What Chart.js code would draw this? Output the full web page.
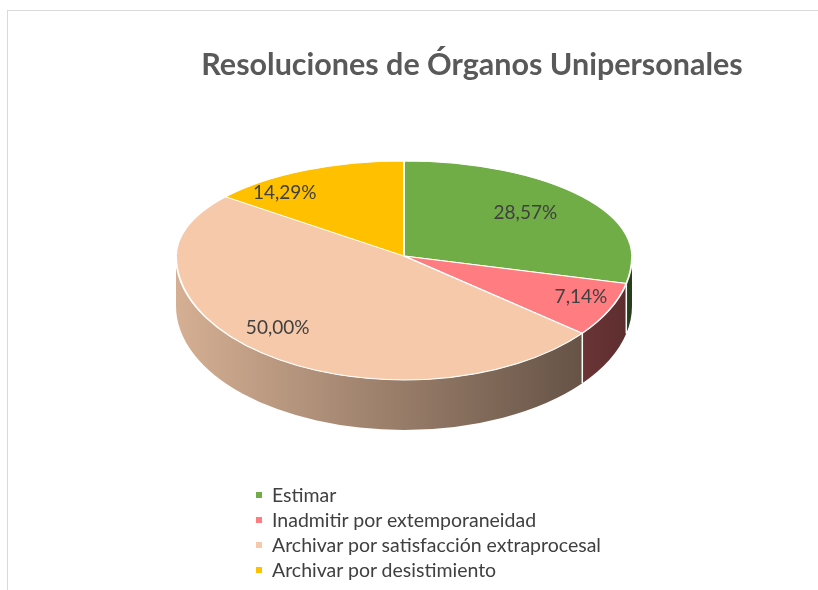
<!DOCTYPE html>
<html>
<head>
<meta charset="utf-8">
<script src="https://cdn.jsdelivr.net/npm/chart.js@4.4.0/dist/chart.umd.min.js"></script>
<style>
  html, body { margin: 0; padding: 0; background: #fff; }
  #wrap { position: relative; width: 818px; height: 590px; overflow: hidden; }
  #frame { position: absolute; left: 7px; top: 10px; width: 900px; height: 700px; border: 1px solid #d9d9d9; }
  #chart { position: absolute; left: 0; top: 0; }
  #legend { position: absolute; left: 256px; top: 482px; margin: 0; padding: 0; list-style: none;
            font-family: Lato, sans-serif; font-size: 19.5px; color: #404040; }
  #legend li { height: 25px; display: flex; align-items: center; }
  #legend i { display: inline-block; width: 6px; height: 6px; margin-right: 10px; }
</style>
</head>
<body>
<div id="wrap">
  <div id="frame"></div>
  <canvas id="chart" width="818" height="590"></canvas>
  <ul id="legend"></ul>
</div>
<script>
const categories = [
  "Estimar",
  "Inadmitir por extemporaneidad",
  "Archivar por satisfacción extraprocesal",
  "Archivar por desistimiento"
];
const shares = [28.57, 7.14, 50.00, 14.29];
const sliceColors = ["#70AD47", "#FF7C80", "#F5C9A9", "#FFC000"];

// where the tilted pie sits on the page (back half flatter than front = cheap perspective)
const PIE_X = 404, PIE_Y = 256, PIE_RX = 228, RY_BACK = 95, RY_FRONT = 124, DEPTH = 50;
// small nudges so the % labels land where Excel put them
const labelNudge = [[-7, 0], [29, 2], [-24, 2], [-48, -2]];

function shade(hex, f) {
  const n = parseInt(hex.slice(1), 16);
  const r = Math.round(((n >> 16) & 255) * f);
  const g = Math.round(((n >> 8) & 255) * f);
  const b = Math.round((n & 255) * f);
  return `rgb(${r},${g},${b})`;
}

function pieTransform(ctx, arc, ry) {
  const R = arc.outerRadius;
  ctx.translate(PIE_X, PIE_Y);
  ctx.scale(PIE_RX / R, ry / R);
  ctx.translate(-arc.x, -arc.y);
}

const pie3d = {
  id: "pie3d",
  beforeDatasetsDraw(chart) {
    const ctx = chart.ctx;
    const arcs = chart.getDatasetMeta(0).data;

    // side walls (only the front half shows)
    arcs.forEach((arc, i) => {
      const a0 = Math.max(arc.startAngle, 0);
      const a1 = Math.min(arc.endAngle, Math.PI);
      if (a1 <= a0) return;
      const grad = ctx.createLinearGradient(PIE_X - PIE_RX, 0, PIE_X + PIE_RX, 0);
      grad.addColorStop(0, shade(sliceColors[i], 0.87));
      grad.addColorStop(1, shade(sliceColors[i], 0.36));
      ctx.beginPath();
      ctx.ellipse(PIE_X, PIE_Y, PIE_RX, RY_FRONT, 0, a0, a1, false);
      ctx.ellipse(PIE_X, PIE_Y + DEPTH, PIE_RX, RY_FRONT, 0, a1, a0, true);
      ctx.closePath();
      ctx.fillStyle = grad;
      ctx.fill();
    });

    ctx.strokeStyle = "#fff";
    ctx.lineWidth = 1.5;
    arcs.forEach(arc => {
      const a = arc.endAngle;
      if (a > 0 && a < Math.PI) {
        const x = PIE_X + Math.cos(a) * PIE_RX;
        const y = PIE_Y + Math.sin(a) * RY_FRONT;
        ctx.beginPath();
        ctx.moveTo(x, y);
        ctx.lineTo(x, y + DEPTH);
        ctx.stroke();
      }
    });

    // back half of the top face
    ctx.save();
    ctx.beginPath();
    ctx.rect(0, 0, chart.width, PIE_Y + 0.5);
    ctx.clip();
    pieTransform(ctx, arcs[0], RY_BACK);
  },
  afterDatasetsDraw(chart) {
    const ctx = chart.ctx;
    const meta = chart.getDatasetMeta(0);
    const arcs = meta.data;
    ctx.restore();

    // front half of the top face
    ctx.save();
    ctx.beginPath();
    ctx.rect(0, PIE_Y - 0.5, chart.width, chart.height);
    ctx.clip();
    pieTransform(ctx, arcs[0], RY_FRONT);
    meta.controller.draw();
    ctx.restore();

    ctx.font = "19px Lato";
    ctx.fillStyle = "#404040";
    ctx.textAlign = "center";
    ctx.textBaseline = "middle";
    arcs.forEach((arc, i) => {
      const mid = (arc.startAngle + arc.endAngle) / 2;
      const s = Math.sin(mid);
      const x = PIE_X + Math.cos(mid) * PIE_RX * 0.72 + labelNudge[i][0];
      const y = PIE_Y + s * (s < 0 ? RY_BACK : RY_FRONT) * 0.72 + labelNudge[i][1];
      ctx.fillText(shares[i].toFixed(2).replace(".", ",") + "%", x, y);
    });
  }
};

const chart = new Chart(document.getElementById("chart"), {
  type: "pie",
  data: {
    labels: categories,
    datasets: [{
      data: shares,
      backgroundColor: sliceColors,
      borderColor: "#fff",
      borderWidth: 2,
      clip: false
    }]
  },
  options: {
    responsive: false,
    animation: false,
    layout: { padding: { left: 126 } },
    plugins: {
      legend: { display: false },
      tooltip: { enabled: false },
      title: {
        display: true,
        text: "Resoluciones de Órganos Unipersonales",
        color: "#595959",
        font: { family: "Lato", size: 30.5, weight: "bold" },
        padding: { top: 47, bottom: 20 }
      }
    }
  },
  plugins: [pie3d]
});

// legend list
const legendEl = document.getElementById("legend");
categories.forEach((name, i) => {
  legendEl.innerHTML += `<li><i style="background:${sliceColors[i]}"></i>${name}</li>`;
});
</script>
</body>
</html>
